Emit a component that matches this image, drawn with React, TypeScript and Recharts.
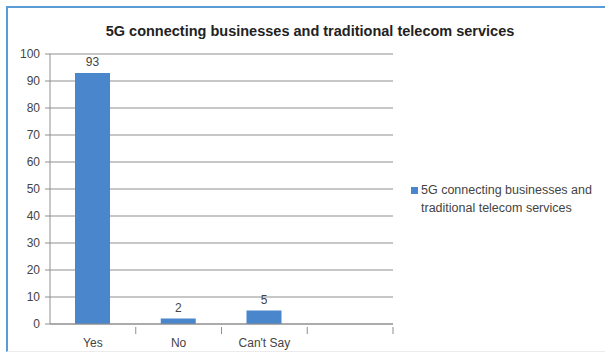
import { BarChart, Bar, XAxis, YAxis, CartesianGrid, LabelList } from 'recharts';

const categories = ['Yes', 'No', "Can't Say", ''];
const responses = [93, 2, 5, null];
const yTicks = [0, 10, 20, 30, 40, 50, 60, 70, 80, 90, 100];
const seriesName = '5G connecting businesses and traditional telecom services';
const chartTitle = '5G connecting businesses and traditional telecom services';

const BAR_COLOR = '#4A86CC';
const GRID_COLOR = '#8f8f8f';
const FONT = '"Liberation Sans", Arial, sans-serif';

const data = categories.map((name, i) => ({ name, value: responses[i] }));

// label + tick mark on the right boundary of each band (Excel style)
const CategoryTick = (props: any) => {
  const { x, y, payload } = props;
  const half = payload?.offset ?? 0;
  return (
    <g>
      <line x1={x + half} y1={y - 5} x2={x + half} y2={y + 2} stroke={GRID_COLOR} />
      <text x={x} y={y + 15} textAnchor="middle" fontSize={12} fill="#444" fontFamily={FONT}>
        {payload.value}
      </text>
    </g>
  );
};

export default function App() {
  return (
    <div
      style={{
        position: 'absolute',
        left: 0,
        top: 0,
        width: 605,
        height: 355,
        background: '#fff',
        fontFamily: FONT,
        overflow: 'hidden',
      }}
    >
      <div
        style={{
          position: 'absolute',
          left: 6,
          top: 6,
          right: -4,
          height: 343,
          borderTop: '2px solid #5b9bd5',
          borderLeft: '2px solid #5b9bd5',
          borderBottom: '1px solid #ececec',
        }}
      />
      <div
        style={{
          position: 'absolute',
          left: 0,
          width: 620,
          top: 23,
          textAlign: 'center',
          fontSize: 14.5,
          fontWeight: 'bold',
          color: '#222',
        }}
      >
        {chartTitle}
      </div>
      <div style={{ position: 'absolute', left: 0, top: 0 }}>
        <BarChart
          width={605}
          height={355}
          data={data}
          margin={{ top: 54, right: 212, bottom: 0, left: 0 }}
        >
          <CartesianGrid vertical={false} stroke={GRID_COLOR} strokeWidth={1} />
          <XAxis
            dataKey="name"
            height={31}
            stroke={GRID_COLOR}
            tickLine={false}
            tick={<CategoryTick />}
            interval={0}
          />
          <YAxis
            width={50}
            domain={[0, 100]}
            ticks={yTicks}
            interval={0}
            stroke={GRID_COLOR}
            tickSize={5}
            tickMargin={5}
            tick={{ fontSize: 12, fill: '#444', fontFamily: FONT }}
          />
          <Bar dataKey="value" name={seriesName} fill={BAR_COLOR} barSize={35} isAnimationActive={false}>
            <LabelList dataKey="value" position="top" offset={7} fontSize={12} fill="#444" fontFamily={FONT} />
          </Bar>
        </BarChart>
      </div>
      <div
        style={{
          position: 'absolute',
          left: 411,
          top: 181,
          width: 192,
          display: 'flex',
          alignItems: 'flex-start',
          gap: 3,
        }}
      >
        <div style={{ width: 7, height: 7, marginTop: 6, background: BAR_COLOR, flexShrink: 0 }} />
        <div style={{ fontSize: 12.5, lineHeight: '18px', color: '#444' }}>{seriesName}</div>
      </div>
    </div>
  );
}
